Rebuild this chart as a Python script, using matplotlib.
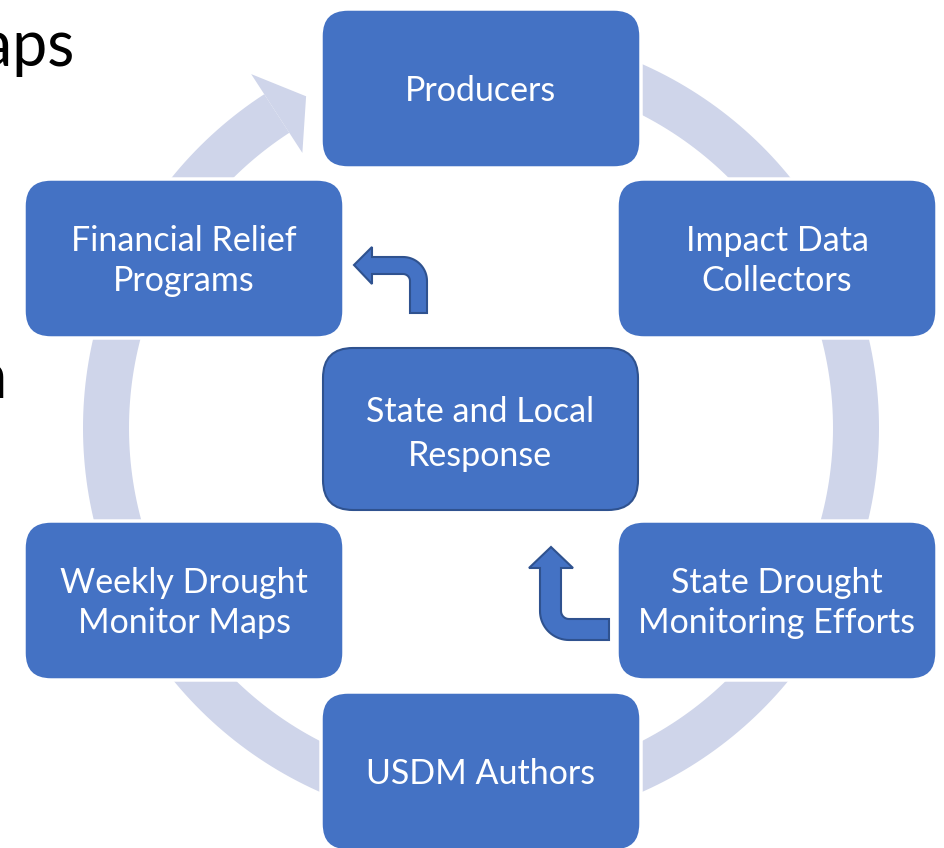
import numpy as np
import matplotlib
matplotlib.use("Agg")
import matplotlib.pyplot as plt
from matplotlib.patches import FancyBboxPatch, Polygon

# cycle labels (outer boxes, clockwise from top) and the centre box
labels = ["Producers", "Impact Data\nCollectors", "State Drought\nMonitoring Efforts",
          "USDM Authors", "Weekly Drought\nMonitor Maps", "Financial Relief\nPrograms"]
center_label = "State and Local\nResponse"
# box top-left corners in pixel space (layout only)
box_xy = [(321, 9), (617, 179), (617, 521), (321, 692), (24, 521), (24, 179)]
box_w, box_h = 320, 159

BLUE = "#4472C4"
DARK = "#2F528F"
RING = "#CFD5EA"
FONT = ["Lato", "DejaVu Sans"]

fig = plt.figure(figsize=(9.45, 8.48), dpi=100)
ax = fig.add_axes([0, 0, 1, 1])
ax.set_xlim(0, 945)
ax.set_ylim(848, 0)
ax.set_aspect("equal")
ax.axis("off")

# fragments of slide text behind the diagram
ax.text(75, 48, "Maps", fontsize=45, ha="right", va="center", family=FONT, color="black")
ax.text(8, 380, "on", fontsize=45, ha="right", va="center", family=FONT, color="black")

# big circular arrow
cx, cy, r_in, r_out = 481, 428, 352, 398
t = np.radians(np.linspace(-85, 237, 300))
outer = np.c_[cx + r_out * np.cos(t), cy + r_out * np.sin(t)]
inner = np.c_[cx + r_in * np.cos(t), cy + r_in * np.sin(t)][::-1]
ax.add_patch(Polygon(np.vstack([outer, inner]), closed=True, fc=RING, ec="none", zorder=1))
tb, tt = np.radians(237), np.radians(242.2)
head = [(cx + 422 * np.cos(tb), cy + 422 * np.sin(tb)),
        (cx + 375 * np.cos(tt), cy + 375 * np.sin(tt)),
        (cx + 328 * np.cos(tb), cy + 328 * np.sin(tb))]
ax.add_patch(Polygon(head, closed=True, fc=RING, ec="none", zorder=1))


def arc(x0, y0, r, a0, a1, n=20):
    a = np.radians(np.linspace(a0, a1, n))
    return np.c_[x0 + r * np.cos(a), y0 + r * np.sin(a)]


# bent arrow pointing left (towards Financial Relief)
pts1 = np.vstack([
    [(410, 313)],
    arc(403, 281, 7, 0, -90, 10),
    [(372, 274), (372, 284), (354, 265), (372, 247), (372, 257)],
    arc(403, 281, 24, -90, 0, 20),
    [(427, 313)],
])
ax.add_patch(Polygon(pts1, closed=True, fc=BLUE, ec=DARK, lw=1.5, zorder=3))

# bent arrow pointing up (from State Drought Monitoring)
pts2 = np.vstack([
    [(609, 640)],
    arc(569, 611, 29, 90, 180, 20),
    [(540, 568), (529, 568), (551, 547), (573, 568), (561, 568)],
    arc(569, 611, 8, 180, 90, 10),
    [(609, 619)],
])
ax.add_patch(Polygon(pts2, closed=True, fc=BLUE, ec=DARK, lw=1.5, zorder=3))

for (x, y), lab in zip(box_xy, labels):
    ax.add_patch(FancyBboxPatch((x, y), box_w, box_h,
                                boxstyle="round,pad=0,rounding_size=27",
                                fc=BLUE, ec="white", lw=2.5, zorder=2))
    ax.text(x + box_w / 2, y + box_h / 2 + 2.5, lab, ha="center", va="center",
            fontsize=24.5, color="white", family=FONT, linespacing=1.27, zorder=4)

ax.add_patch(FancyBboxPatch((323, 348), 315, 162,
                            boxstyle="round,pad=0,rounding_size=30",
                            fc=BLUE, ec=DARK, lw=1.5, zorder=2))
ax.text(480, 434, center_label, ha="center", va="center", fontsize=24.5,
        color="white", family=FONT, linespacing=1.5, zorder=4)

fig.savefig("out.png", dpi=100)
